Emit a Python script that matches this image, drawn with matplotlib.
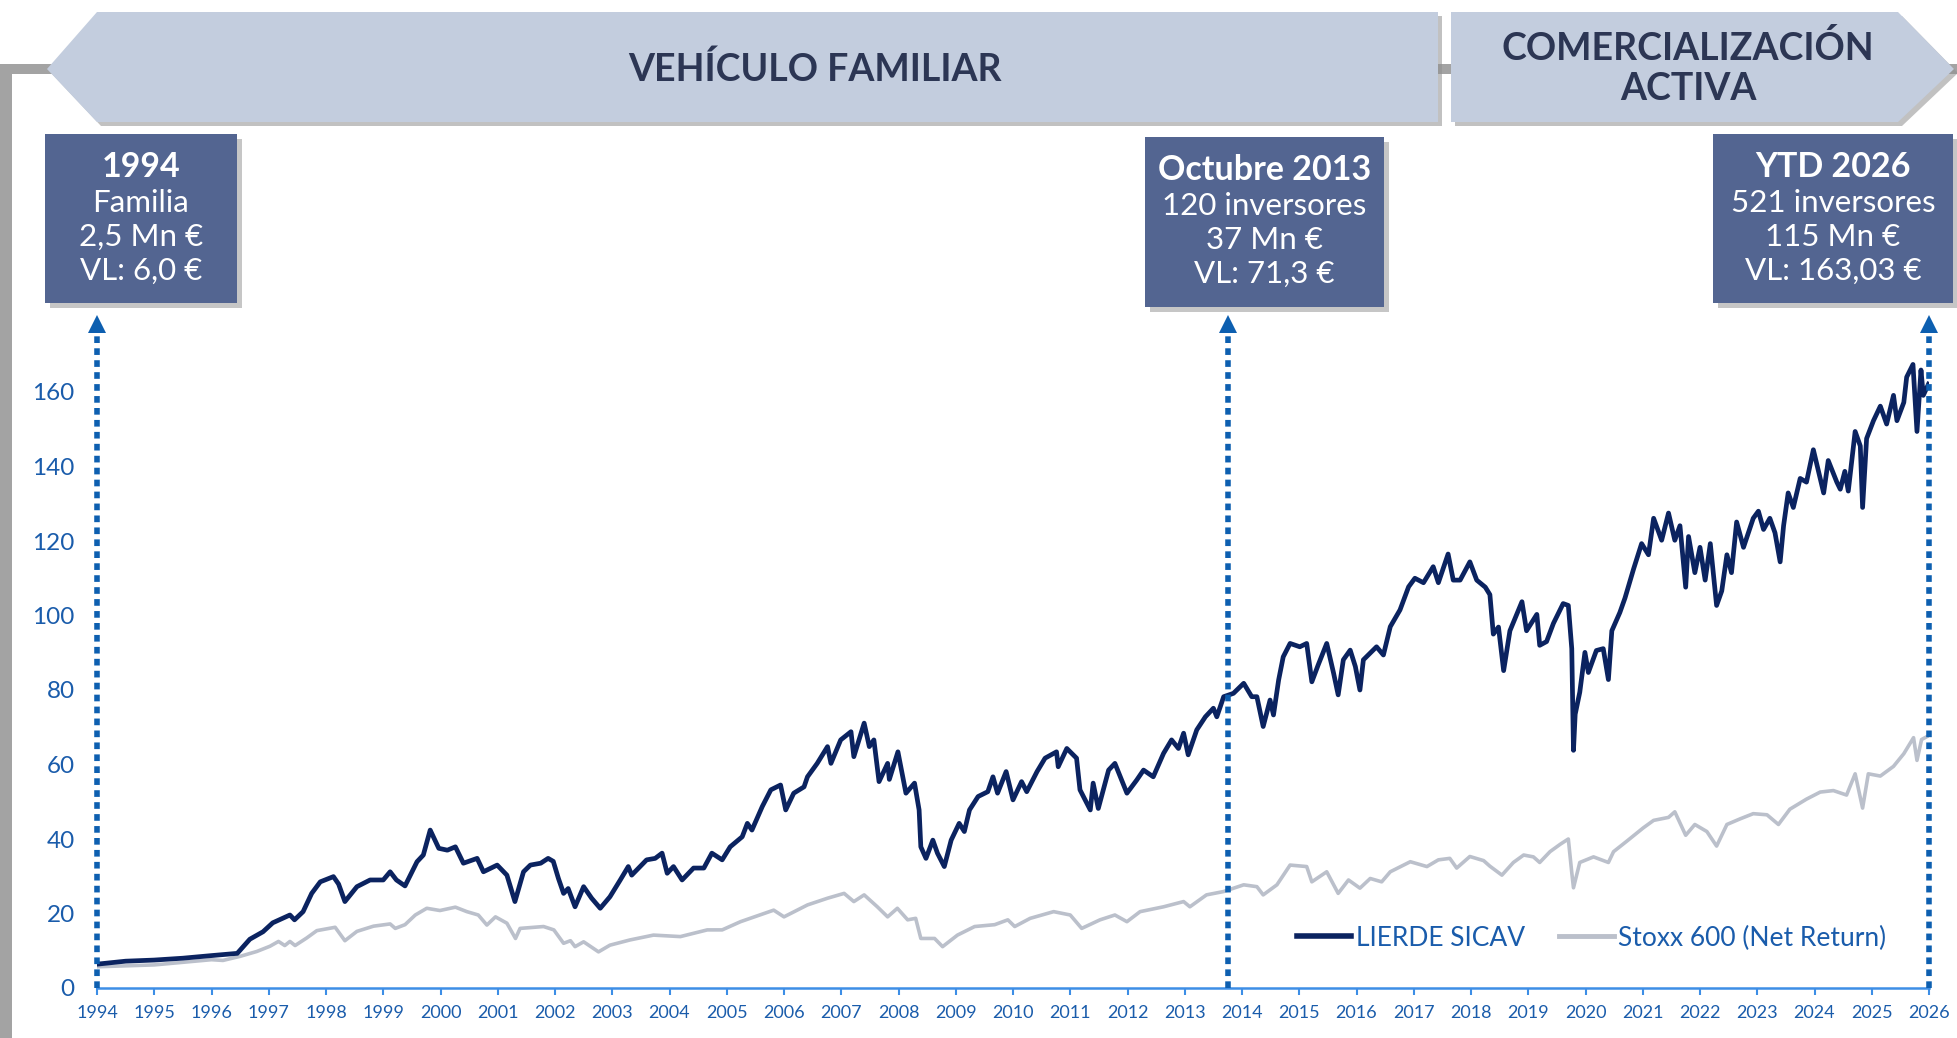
import matplotlib
matplotlib.use("Agg")
import matplotlib.pyplot as plt
from matplotlib.patches import Polygon, Rectangle
from matplotlib.lines import Line2D

# ---------------- data ----------------
lierde_years = [1994.0, 1994.5, 1995.0, 1995.5, 1996.0, 1996.45, 1996.67, 1996.9, 1997.07, 1997.37,
                1997.45, 1997.6, 1997.75, 1997.9, 1998.13, 1998.22, 1998.33, 1998.54, 1998.77, 1999.0,
                1999.12, 1999.23, 1999.38, 1999.59, 1999.7, 1999.82, 1999.97, 2000.12, 2000.26, 2000.4,
                2000.64, 2000.75, 2000.99, 2001.16, 2001.3, 2001.45, 2001.57, 2001.75, 2001.88, 2001.97,
                2002.06, 2002.15, 2002.23, 2002.35, 2002.5, 2002.64, 2002.79, 2002.96, 2003.14, 2003.28,
                2003.34, 2003.6, 2003.75, 2003.87, 2003.96, 2004.07, 2004.22, 2004.42, 2004.6, 2004.74,
                2004.92, 2005.06, 2005.27, 2005.36, 2005.44, 2005.62, 2005.77, 2005.94, 2006.03, 2006.17,
                2006.35, 2006.41, 2006.58, 2006.76, 2006.82, 2006.99, 2007.17, 2007.22, 2007.4, 2007.49,
                2007.57, 2007.66, 2007.81, 2007.84, 2007.99, 2008.13, 2008.28, 2008.36, 2008.39, 2008.48,
                2008.6, 2008.68, 2008.8, 2008.92, 2009.06, 2009.15, 2009.24, 2009.39, 2009.56, 2009.65,
                2009.73, 2009.88, 2010.0, 2010.15, 2010.24, 2010.42, 2010.56, 2010.76, 2010.79, 2010.94,
                2011.11, 2011.17, 2011.35, 2011.4, 2011.49, 2011.67, 2011.78, 2011.99, 2012.16, 2012.28,
                2012.45, 2012.63, 2012.77, 2012.89, 2012.98, 2013.06, 2013.21, 2013.36, 2013.5, 2013.56,
                2013.68, 2013.85, 2014.03, 2014.17, 2014.26, 2014.37, 2014.49, 2014.55, 2014.64, 2014.72,
                2014.84, 2015.01, 2015.13, 2015.22, 2015.33, 2015.48, 2015.6, 2015.68, 2015.77, 2015.89,
                2015.98, 2016.06, 2016.12, 2016.35, 2016.47, 2016.59, 2016.76, 2016.91, 2017.02, 2017.17,
                2017.34, 2017.43, 2017.6, 2017.69, 2017.81, 2017.98, 2018.1, 2018.25, 2018.33, 2018.39,
                2018.48, 2018.57, 2018.68, 2018.89, 2018.97, 2019.15, 2019.2, 2019.32, 2019.44, 2019.61,
                2019.7, 2019.76, 2019.79, 2019.82, 2019.9, 2019.99, 2020.05, 2020.19, 2020.31, 2020.4,
                2020.46, 2020.6, 2020.69, 2020.84, 2020.98, 2021.1, 2021.19, 2021.33, 2021.45, 2021.56,
                2021.65, 2021.75, 2021.8, 2021.91, 2022.0, 2022.09, 2022.18, 2022.29, 2022.38, 2022.47,
                2022.55, 2022.64, 2022.76, 2022.93, 2023.02, 2023.11, 2023.22, 2023.31, 2023.4, 2023.46,
                2023.54, 2023.63, 2023.75, 2023.86, 2023.98, 2024.07, 2024.16, 2024.24, 2024.39, 2024.45,
                2024.53, 2024.59, 2024.71, 2024.8, 2024.84, 2024.91, 2025.03, 2025.15, 2025.26, 2025.38,
                2025.44, 2025.56, 2025.61, 2025.72, 2025.79, 2025.86, 2025.9, 2025.99]
lierde_values = [6.4, 7.2, 7.5, 8.0, 8.7, 9.3, 13.1, 15.1, 17.5, 19.6,
                 18.3, 20.5, 25.4, 28.5, 29.9, 27.9, 23.2, 27.2, 29.0, 29.0,
                 31.2, 29.0, 27.4, 33.9, 35.7, 42.4, 37.5, 37.0, 37.9, 33.5,
                 34.8, 31.2, 33.0, 30.3, 23.2, 31.2, 33.0, 33.5, 34.8, 34.0,
                 29.4, 25.4, 26.7, 21.8, 27.2, 24.1, 21.4, 24.5, 29.0, 32.6,
                 30.3, 34.4, 34.8, 36.2, 30.8, 32.6, 29.0, 32.2, 32.2, 36.2,
                 34.4, 37.9, 40.6, 44.2, 42.4, 48.7, 53.2, 54.5, 47.8, 52.3,
                 54.0, 56.7, 60.3, 64.8, 60.3, 66.6, 68.8, 62.1, 71.1, 64.8,
                 66.6, 55.4, 60.3, 56.0, 63.4, 52.3, 55.0, 47.8, 37.9, 34.8,
                 39.7, 36.2, 32.6, 39.7, 44.2, 42.0, 47.8, 51.4, 52.7, 56.7,
                 52.3, 58.1, 50.5, 55.4, 52.7, 58.1, 61.7, 63.4, 59.4, 64.3,
                 61.7, 53.2, 47.8, 55.0, 48.2, 58.5, 60.3, 52.3, 55.8, 58.5,
                 56.7, 63.0, 66.6, 64.3, 68.4, 62.6, 69.3, 72.8, 75.1, 72.8,
                 78.2, 79.1, 81.8, 78.2, 78.2, 70.2, 77.3, 73.3, 82.7, 88.9,
                 92.5, 91.6, 92.5, 82.2, 86.7, 92.5, 84.5, 78.7, 88.1, 90.7,
                 86.3, 80.0, 88.1, 91.6, 89.4, 97.0, 101.5, 107.7, 110.0, 108.8,
                 113.1, 108.8, 116.5, 109.5, 109.5, 114.4, 109.5, 107.6, 105.6, 95.0,
                 96.9, 85.2, 95.9, 103.7, 95.9, 100.3, 92.0, 93.0, 97.9, 103.2,
                 102.7, 91.1, 63.8, 73.5, 79.4, 90.1, 84.7, 90.6, 91.1, 82.8,
                 95.9, 100.8, 104.7, 112.5, 119.3, 116.3, 126.1, 120.2, 127.5, 120.2,
                 124.1, 107.6, 121.2, 111.5, 118.3, 109.5, 119.3, 102.7, 106.6, 116.3,
                 111.5, 125.1, 118.3, 126.1, 128.0, 123.1, 126.1, 122.2, 114.4, 124.1,
                 132.9, 129.0, 136.8, 135.8, 144.5, 138.7, 132.9, 141.6, 135.8, 133.9,
                 138.7, 133.4, 149.4, 145.5, 129.0, 147.5, 152.3, 156.2, 151.4, 159.1,
                 152.3, 157.2, 164.0, 167.4, 149.4, 165.9, 159.1, 162.1]

stoxx_years = [1994.0, 1995.0, 1996.0, 1996.2, 1996.5, 1996.79, 1997.02, 1997.17, 1997.28, 1997.37,
               1997.46, 1997.66, 1997.84, 1998.16, 1998.33, 1998.54, 1998.83, 1999.12, 1999.21, 1999.38,
               1999.56, 1999.76, 1999.99, 2000.26, 2000.46, 2000.66, 2000.81, 2000.96, 2001.16, 2001.31,
               2001.39, 2001.8, 2001.98, 2002.15, 2002.27, 2002.35, 2002.5, 2002.76, 2002.96, 2003.31,
               2003.72, 2004.19, 2004.66, 2004.92, 2005.24, 2005.82, 2006.0, 2006.41, 2006.76, 2007.05,
               2007.22, 2007.4, 2007.63, 2007.81, 2007.98, 2008.16, 2008.3, 2008.39, 2008.63, 2008.77,
               2009.03, 2009.33, 2009.68, 2009.91, 2010.03, 2010.3, 2010.71, 2011.0, 2011.2, 2011.52,
               2011.78, 2011.99, 2012.22, 2012.63, 2012.98, 2013.09, 2013.38, 2013.68, 2014.03, 2014.26,
               2014.37, 2014.61, 2014.84, 2015.13, 2015.22, 2015.48, 2015.68, 2015.86, 2016.06, 2016.24,
               2016.44, 2016.59, 2016.94, 2017.23, 2017.43, 2017.63, 2017.75, 2017.98, 2018.22, 2018.33,
               2018.54, 2018.74, 2018.92, 2019.09, 2019.2, 2019.38, 2019.56, 2019.7, 2019.76, 2019.79,
               2019.9, 2020.14, 2020.4, 2020.49, 2020.72, 2021.01, 2021.19, 2021.45, 2021.56, 2021.75,
               2021.91, 2022.12, 2022.29, 2022.47, 2022.7, 2022.93, 2023.17, 2023.37, 2023.57, 2023.86,
               2024.1, 2024.33, 2024.56, 2024.71, 2024.84, 2024.94, 2025.15, 2025.38, 2025.56, 2025.73,
               2025.79, 2025.87, 2025.99]
stoxx_values = [5.7, 6.2, 7.6, 7.4, 8.5, 9.8, 11.2, 12.5, 11.4, 12.5,
                11.4, 13.4, 15.4, 16.3, 12.7, 15.2, 16.6, 17.2, 16.0, 17.0,
                19.6, 21.4, 20.8, 21.7, 20.5, 19.6, 16.9, 19.1, 17.4, 13.3,
                16.0, 16.5, 15.6, 12.0, 12.7, 11.1, 12.4, 9.7, 11.5, 12.9,
                14.2, 13.8, 15.6, 15.6, 17.8, 20.9, 19.1, 22.3, 24.1, 25.4,
                23.2, 25.0, 21.8, 19.1, 21.4, 18.3, 18.7, 13.3, 13.3, 11.1,
                14.2, 16.5, 17.0, 18.3, 16.5, 18.7, 20.5, 19.6, 16.0, 18.3,
                19.6, 17.8, 20.5, 21.8, 23.2, 21.8, 25.0, 25.9, 27.7, 27.2,
                25.0, 27.7, 33.0, 32.6, 28.5, 31.2, 25.4, 29.0, 26.8, 29.4,
                28.5, 31.2, 33.9, 32.6, 34.4, 34.8, 32.2, 35.3, 34.2, 32.7,
                30.3, 33.7, 35.7, 35.2, 33.7, 36.6, 38.6, 40.0, 31.0, 26.9,
                33.7, 35.2, 33.7, 36.6, 39.4, 43.0, 45.0, 45.8, 47.3, 41.0,
                43.9, 42.0, 38.1, 43.9, 45.4, 46.8, 46.5, 43.9, 48.0, 50.7,
                52.6, 53.0, 51.8, 57.5, 48.3, 57.5, 56.9, 59.5, 62.9, 67.2,
                61.1, 66.7, 67.7]

year_ticks = list(range(1994, 2027))
value_ticks = [0, 20, 40, 60, 80, 100, 120, 140, 160]
event_years = [1994.0, 2013.75, 2026.0]
series_names = ["LIERDE SICAV", "Stoxx 600 (Net Return)"]
phase_labels = ["VEHÍCULO FAMILIAR", "COMERCIALIZACIÓN\nACTIVA"]
box_titles = ["1994", "Octubre 2013", "YTD 2026"]
box_lines = [["Familia", "2,5 Mn €", "VL: 6,0 €"],
             ["120 inversores", "37 Mn €", "VL: 71,3 €"],
             ["521 inversores", "115 Mn €", "VL: 163,03 €"]]

# ---------------- style ----------------
NAVY = "#0B2360"
GREY = "#BBC0CB"
BLUE_TXT = "#1A5CAB"
DOT_BLUE = "#0D5FB0"
SPINE = "#3D8EE6"
BANNER = "#C3CDDE"
BANNER_TXT = "#2C3654"
BOX = "#536591"
FONT = "Lato"

W, H = 1958, 1038
fig = plt.figure(figsize=(W / 100, H / 100), dpi=100)
fig.patch.set_facecolor("white")

# main axes: 1994 at x=97px, 2026 at x=1929px; 0 at y=988px; 3.725 px per unit
ymax = 182
ax = fig.add_axes([97 / W, (H - 988) / H, (1929 - 97) / W, ymax * 3.725 / H])
ax.set_xlim(1994, 2026)
ax.set_ylim(0, ymax)
ax.patch.set_alpha(0)
for s in ["top", "right", "left"]:
    ax.spines[s].set_visible(False)
ax.spines["bottom"].set_color(SPINE)
ax.spines["bottom"].set_linewidth(1.8)

ax.plot(stoxx_years, stoxx_values, color=GREY, lw=2.6, solid_joinstyle="round",
        label=series_names[1], zorder=3)
ax.plot(lierde_years, lierde_values, color=NAVY, lw=3.4, solid_joinstyle="round",
        label=series_names[0], zorder=4)

ax.set_xticks(year_ticks)
ax.set_xticklabels([str(y) for y in year_ticks], fontfamily=FONT, fontsize=13, color=BLUE_TXT)
ax.tick_params(axis="x", direction="out", length=5, width=1.5, color=SPINE, pad=7)
ax.set_yticks(value_ticks)
ax.set_yticklabels([str(v) for v in value_ticks], fontfamily=FONT, fontsize=17.5, color=BLUE_TXT)
ax.tick_params(axis="y", length=0, pad=16)

# dotted event lines with arrowheads
for ev in event_years:
    ax.plot([ev, ev], [0, 176], color=DOT_BLUE, lw=4.0, linestyle=(0, (1.2, 0.95)),
            dash_capstyle="butt", clip_on=False, zorder=6)
    ax.plot([ev], [178.3], marker="^", markersize=13, color=DOT_BLUE, markeredgewidth=0,
            clip_on=False, zorder=6)

handles = [Line2D([0], [0], color=NAVY, lw=4), Line2D([0], [0], color=GREY, lw=3.5)]
leg = ax.legend(handles, series_names, loc="center left", bbox_to_anchor=(1284 / W, (H - 938) / H),
                bbox_transform=fig.transFigure, ncol=2, frameon=False, borderpad=0,
                handlelength=2.05, handletextpad=0.18, columnspacing=1.3,
                prop={"family": FONT, "size": 19.0})
for t in leg.get_texts():
    t.set_color(BLUE_TXT)

# ---------------- overlay (pixel coords) ----------------
ov = fig.add_axes([0, 0, 1, 1], zorder=10)
ov.set_xlim(0, W)
ov.set_ylim(H, 0)
ov.axis("off")
ov.patch.set_alpha(0)

# frame
ov.add_patch(Rectangle((0, 64), W, 10, color="#A3A3A3", lw=0, zorder=1))
ov.add_patch(Rectangle((0, 64), 12, H - 64, color="#A3A3A3", lw=0, zorder=1))

def shape(pts, color, z, dx=0, dy=0, alpha=1.0):
    ov.add_patch(Polygon([(x + dx, y + dy) for x, y in pts], closed=True, facecolor=color,
                         edgecolor="none", alpha=alpha, zorder=z))

left_banner = [(47, 69), (97, 12), (1438, 12), (1438, 122), (97, 122)]
right_banner = [(1451, 12), (1898, 12), (1954, 69), (1898, 122), (1451, 122)]
for pts in (left_banner, right_banner):
    shape(pts, "#8F8F8F", 2, dx=4, dy=4, alpha=0.55)
    shape(pts, BANNER, 3)

ov.text(815, 69, phase_labels[0], ha="center", va="center", fontfamily=FONT,
        fontweight="bold", fontsize=27, color=BANNER_TXT, zorder=4)
ov.text(1688, 68, phase_labels[1], ha="center", va="center", fontfamily=FONT,
        fontweight="bold", fontsize=27, color=BANNER_TXT, linespacing=1.22, zorder=4)

boxes = [(45, 134, 237, 303), (1145, 137, 1384, 307), (1713, 134, 1953, 303)]
for (x0, y0, x1, y1), title, lines in zip(boxes, box_titles, box_lines):
    ov.add_patch(Rectangle((x0 + 5, y0 + 5), x1 - x0, y1 - y0, facecolor="#8F8F8F",
                           alpha=0.5, lw=0, zorder=2))
    ov.add_patch(Rectangle((x0, y0), x1 - x0, y1 - y0, facecolor=BOX, lw=0, zorder=3))
    cx = (x0 + x1) / 2
    ov.text(cx, y0 + 33, title, ha="center", va="center", fontfamily=FONT, fontweight="bold",
            fontsize=24.5, color="white", zorder=4)
    for i, ln in enumerate(lines):
        ov.text(cx, y0 + 69 + i * 34, ln, ha="center", va="center", fontfamily=FONT,
                fontsize=22.5, color="white", zorder=4)

fig.savefig("out.png", dpi=100, facecolor="white")
